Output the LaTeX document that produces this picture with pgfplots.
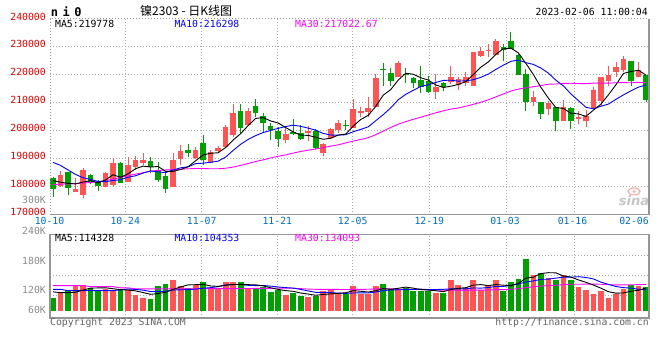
\documentclass[border=0pt]{standalone}
\usepackage{pgfplots}
\pgfplotsset{compat=1.18}
\usepackage{pgfplotstable}
\usepackage{fontspec}
\setmainfont{DejaVu Sans Mono}
\newfontfamily\cjk{Noto Sans CJK SC}
\newfontfamily\wm{DejaVu Sans}
\newcommand\sm{\fontsize{9.8bp}{10bp}\selectfont}
\definecolor{cred}{RGB}{255,84,84}
\definecolor{cgreen}{RGB}{0,160,0}
\definecolor{maten}{RGB}{0,0,255}
\definecolor{mathirty}{RGB}{255,0,255}
\definecolor{gridc}{RGB}{170,170,170}
\definecolor{framec}{RGB}{150,150,150}
\definecolor{ylab}{RGB}{230,0,0}
\definecolor{xlab}{RGB}{0,110,200}
\definecolor{glab}{RGB}{140,140,140}
\definecolor{copyc}{RGB}{100,100,100}

% red candles: i, open (lo), close (hi), low, high
\pgfplotstableread{
i lo hi L H
1 180370 184180 180000 185730
3 178110 179180 178000 183000
4 177040 185970 175850 186560
7 180010 184770 180010 185370
8 180610 188580 180010 190130
10 181800 187750 181800 190730
11 187160 189540 185970 190970
12 188580 189540 187750 191920
16 180010 189540 180010 191920
17 189890 192750 187750 194890
19 190250 193000 189890 194300
21 188580 192510 188580 193110
22 192870 193700 191920 194540
23 194060 201250 194060 202080
24 198460 206440 197870 209420
26 202040 207040 202040 207990
31 196680 198820 195490 200850
34 199300 200010 196440 201680
36 192160 195250 191080 195490
37 197270 200610 196920 200850
38 200250 202630 199300 203820
40 200800 207900 200800 211400
41 206310 207140 204760 208330
42 206550 207980 204760 211900
43 208570 218810 208570 220240
46 219050 224170 219050 225000
51 213690 215480 211310 220240
53 217260 219290 216670 222980
54 216430 218450 214520 219050
55 216900 219050 216070 220830
56 216070 227980 216070 228210
57 226790 228570 226190 230000
58 228570 228900 226190 230950
59 227140 232140 227140 232740
64 210120 212140 208930 214290
66 207740 209760 205710 210710
68 203570 208570 203570 210950
70 204170 205000 202380 207140
71 203330 205360 201430 207380
72 207740 214520 207740 215710
73 210710 219290 208930 219290
74 217620 220000 216070 223210
75 220830 222860 219050 224400
76 221670 225600 220830 226790
78 219050 221670 219050 224400
}\redK

% green candles: i, close (lo), open (hi), low, high
\pgfplotstableread{
i lo hi L H
0 179180 183000 176440 183580
2 179660 185130 177040 185370
5 181560 184180 180970 184420
6 180370 181800 178580 182390
9 181440 188580 181200 188940
13 186920 189180 184770 190730
14 182390 185970 181800 188940
15 179060 183820 177870 184770
18 191920 193110 190730 195250
20 189500 195600 187750 198460
25 200850 207040 199300 209420
27 206440 208820 204770 211200
28 202870 205250 199300 206440
29 200250 201680 196680 202630
30 197160 200010 194300 201200
32 198820 199660 198460 204060
33 196920 199060 196680 202040
35 193700 200010 193350 200490
39 201800 202150 200250 203820
44 221670 222020 216070 224170
45 217860 220480 216000 222500
47 220000 220350 216900 222260
48 217020 218810 215240 219290
49 215480 218210 213330 223210
50 213690 217860 213330 219640
52 215480 217020 214290 217260
60 228810 230000 224760 231000
61 229170 232140 229170 235120
62 220000 227140 220000 227500
63 210120 220240 207140 222020
65 205950 210120 204170 210120
67 203330 208570 200000 208570
69 203330 208100 200600 208570
77 217860 225000 216070 225000
79 211070 220000 210120 220000
}\greenK

\pgfplotstableread{
i m5 m10 m30
0 182200 188700 180800
1 181600 187600 180900
2 181200 186000 181000
3 181000 184400 181100
4 181660 183200 181300
5 182140 182600 181500
6 181380 181900 181800
7 182400 181800 182200
8 184280 182200 182700
9 183360 182510 183300
10 184600 183370 183900
11 186420 183900 184500
12 187360 184880 185000
13 187020 185650 185500
14 187220 185290 185800
15 185480 185040 186000
16 185480 185950 186100
17 186140 186750 186200
18 187140 187080 186400
19 189260 188240 186500
20 191340 188410 186500
21 191940 188710 186400
22 192120 189130 186400
23 194000 190570 186600
24 196680 192970 187000
25 198940 195140 187600
26 201840 196890 188300
27 204380 198250 189000
28 204700 199350 189600
29 203480 200080 190280
30 202760 200850 190880
31 201120 201480 191360
32 199600 201990 192000
33 198400 201550 192590
34 198340 200910 193060
35 197640 200200 193460
36 196940 199030 193960
37 197300 198450 194480
38 198440 198420 194950
39 198800 198570 195630
40 201640 199640 196300
41 204000 200470 196890
42 205480 201390 197500
43 208720 203580 198570
44 212700 205750 199880
45 214700 208170 201170
46 218120 211060 202330
47 220520 213000 203230
48 220160 214440 204070
49 218920 215810 204820
50 218080 216390 205630
51 216340 217230 206390
52 215440 217980 207120
53 215900 218030 207720
54 216500 217710 208120
55 217560 217820 208730
56 220060 218200 209430
57 222680 219060 210170
58 224580 220240 211030
59 227300 221900 212090
60 229260 223410 213150
61 229500 224780 214160
62 227780 225230 214870
63 224040 224310 215310
64 220040 223670 215710
65 215480 222370 216120
66 211600 220550 216600
67 208260 218020 216690
68 207960 216000 216890
69 206200 213120 216940
70 206000 210740 216850
71 205120 208360 216790
72 207360 207810 217010
73 209500 208730 217020
74 212840 209520 216970
75 216420 211210 217130
76 220460 212790 217180
77 221140 214250 217110
78 221620 215560 217270
79 219840 216340 217120
}\maMain

\pgfplotstableread{
i v
1 105400
3 120450
4 120450
7 110950
8 109370
10 109370
11 97500
12 91160
16 133120
17 118870
19 121250
21 113330
22 113330
23 128370
24 128370
26 111740
31 97500
34 92750
36 107000
37 109370
38 103040
40 119660
41 99870
42 99870
43 119660
46 111740
51 103040
53 133120
54 121250
55 114120
56 133120
57 109370
58 121250
59 133120
64 145000
66 138660
68 145000
70 117290
71 109370
72 100660
73 107790
74 91160
75 99870
76 112540
78 118870
}\redV

\pgfplotstableread{
i v
0 91160
2 109370
5 113330
6 107790
9 109370
13 88000
14 118870
15 123620
18 113330
20 128370
25 128370
27 111740
28 115700
29 105410
30 109370
32 103040
33 95910
35 95120
39 99870
44 124410
45 111740
47 114120
48 107000
49 107000
50 107000
52 103040
60 107000
61 128370
62 135500
63 183000
65 150540
67 133120
69 133120
77 121250
79 117290
}\greenV

\pgfplotstableread{
i v5 v10 v30
0 105000 110950 119660
1 103000 110950 119660
2 103000 107800 119660
3 104000 107800 119660
4 109400 107800 119660
5 113800 107800 117300
6 114300 107800 117300
7 114600 107800 117300
8 112400 107800 117300
9 110200 109800 114500
10 109400 111600 114500
11 107300 110800 112000
12 103400 109000 112000
13 99100 105800 112000
14 101000 105600 112000
15 103800 106600 112000
16 111000 109200 112000
17 116500 109900 112000
18 121600 110300 112000
19 122000 111500 112000
20 123000 113400 112500
21 119000 115000 112500
22 117900 117200 112500
23 120900 121300 112500
24 122400 122200 112500
25 122400 122700 112800
26 122000 120500 113000
27 121700 119800 113100
28 119200 120100 113200
29 114600 118500 113300
30 110800 116600 113900
31 107900 115000 113600
32 106200 114000 113400
33 102200 110700 112600
34 99700 107200 111600
35 96900 103800 111000
36 98800 103400 111000
37 100000 103100 111000
38 101500 101900 110700
39 102900 101300 110400
40 107800 102300 110800
41 106400 102600 110900
42 104500 102300 111100
43 107800 104600 112200
44 112700 107800 112400
45 111100 109500 112000
46 113500 109900 111300
47 116300 110400 111100
48 113800 110800 110900
49 110300 111500 110400
50 109400 110200 109700
51 107600 110600 109400
52 105400 110900 109000
53 110600 112200 109200
54 113500 111900 108900
55 114900 112100 108500
56 120900 114300 109200
57 122200 113800 109100
58 119800 115200 109300
59 122200 117800 110200
60 120800 117800 110100
61 119800 120400 111200
62 125100 123600 112300
63 137400 128600 115200
64 139800 131000 116900
65 148500 134600 118700
66 150500 135200 119800
67 150100 137600 120600
68 142500 139900 122000
69 140100 139900 123100
70 133400 141000 123000
71 127600 139100 123300
72 121100 135600 123400
73 113700 128100 123000
74 105300 122700 121900
75 101800 117600 121500
76 102400 115000 121500
77 106500 113800 121700
78 108800 111200 122100
79 114000 109600 122500
}\maVol

\pgfplotsset{
  sinaaxis/.style={
    scale only axis, width=599bp, xmin=-0.4, xmax=79.4,
    anchor=south west,
    axis line style={draw=none},
    xtick={9.63,19.81,29.88,39.93,50.13,60.35,69.5},
    xticklabels={}, yticklabels={},
    scaled x ticks=false, scaled y ticks=false,
    xmajorgrids, ymajorgrids,
    major grid style={draw=gridc, line width=0.8bp, dash pattern=on 1bp off 2bp},
    major tick length=0pt,
    clip mode=individual,
  },
  body/.style 2 args={draw=none, mark=none, forget plot,
    error bars/.cd, y dir=plus, y explicit, error mark=none,
    error bar style={draw=#1, line width=#2}},
}

\begin{document}
\begin{tikzpicture}
\path[use as bounding box, fill=white] (0,0) rectangle (660bp,360bp);

% ---------- price panel ----------
\begin{axis}[sinaaxis, at={(50bp,145.3bp)}, height=196bp,
  ymin=170000, ymax=240000,
  ytick={180000,190000,200000,210000,220000,230000}]
  \addplot[body={cred}{0.9bp}] table[x=i, y=L, y error expr=\thisrow{H}-\thisrow{L}] {\redK};
  \addplot[body={cred}{5.6bp}] table[x=i, y=lo, y error expr=\thisrow{hi}-\thisrow{lo}] {\redK};
  \addplot[body={cgreen}{0.9bp}] table[x=i, y=L, y error expr=\thisrow{H}-\thisrow{L}] {\greenK};
  \addplot[body={cgreen}{5.6bp}] table[x=i, y=lo, y error expr=\thisrow{hi}-\thisrow{lo}] {\greenK};
  \addplot[mathirty, line width=0.9bp] table[x=i, y=m30] {\maMain};
  \addplot[maten, line width=0.9bp] table[x=i, y=m10] {\maMain};
  \addplot[black, line width=0.9bp] table[x=i, y=m5] {\maMain};
  \draw[framec, line width=0.9bp, dash pattern=on 1bp off 2bp] (rel axis cs:0,0) -- (rel axis cs:0,1) -- (rel axis cs:1,1);
  \draw[framec, line width=1.6bp] (rel axis cs:0,0) -- (rel axis cs:1,0) -- (rel axis cs:1,1);
\end{axis}

% ---------- volume panel ----------
\begin{axis}[sinaaxis, at={(50bp,41.7bp)}, height=84bp,
  ymin=42160, ymax=241660,
  ytick={97500,145000,192500}]
  \addplot[body={cred}{5.8bp}] table[x=i, y expr=60000, y error expr=\thisrow{v}-60000] {\redV};
  \addplot[body={cgreen}{5.8bp}] table[x=i, y expr=60000, y error expr=\thisrow{v}-60000] {\greenV};
  \addplot[mathirty, line width=0.9bp] table[x=i, y=v30] {\maVol};
  \addplot[maten, line width=0.9bp] table[x=i, y=v10] {\maVol};
  \addplot[black, line width=0.9bp] table[x=i, y=v5] {\maVol};
  \draw[framec, line width=1.6bp] (rel axis cs:0,0) rectangle (rel axis cs:1,1);
\end{axis}

% ---------- texts ----------
\node[anchor=west, inner sep=0, font=\bfseries\fontsize{12bp}{12bp}\selectfont] at (50.7bp,348bp) {n\hspace{4.5bp}i\hspace{4.5bp}0};
\node[anchor=west, inner sep=0, font=\cjk\fontsize{12bp}{12bp}\selectfont] at (140bp,349.5bp) {镍2303 - 日K线图};
\node[anchor=east, inner sep=0, font=\sm] at (648bp,348bp) {2023-02-06 11:00:04};

\node[anchor=west, inner sep=0, font=\sm] at (55bp,336.5bp) {MA5:219778};
\node[anchor=west, inner sep=0, font=\sm, text=maten] at (174.3bp,336.5bp) {MA10:216298};
\node[anchor=west, inner sep=0, font=\sm, text=mathirty] at (295bp,336.5bp) {MA30:217022.67};

\node[anchor=west, inner sep=0, font=\sm] at (55bp,121.7bp) {MA5:114328};
\node[anchor=west, inner sep=0, font=\sm, text=maten] at (174.3bp,121.7bp) {MA10:104353};
\node[anchor=west, inner sep=0, font=\sm, text=mathirty] at (295bp,121.7bp) {MA30:134093};

\foreach \lab/\yy in {240000/343, 230000/315.7, 220000/287.7, 210000/259.7, 200000/231.7, 190000/203.7, 180000/175.7, 170000/148.3}
  \node[anchor=east, inner sep=0, font=\sm, text=ylab] at (46bp,\yy bp) {\lab};
\node[anchor=east, inner sep=0, font=\sm, text=glab] at (46bp,160bp) {300K};
\foreach \lab/\yy in {240K/129.3, 180K/99.3, 120K/70, 60K/50}
  \node[anchor=east, inner sep=0, font=\sm, text=glab] at (46bp,\yy bp) {\lab};

\foreach \lab/\xx in {10-10/49.5, 10-24/125.3, 11-07/201.7, 11-21/277.3, 12-05/352.7, 12-19/429.3, 01-03/505, 01-16/572.5, 02-06/634}
  \node[inner sep=0, font=\sm, text=xlab] at (\xx bp,139bp) {\lab};

\node[anchor=west, inner sep=0, font=\sm, text=copyc] at (50bp,37bp) {Copyright 2023 SINA.COM};
\node[anchor=east, inner sep=0, font=\sm, text=copyc] at (649bp,37bp) {http://finance.sina.com.cn};

% watermark
\draw[red!35, line width=1.1bp] (634bp,168.5bp) ellipse (6bp and 3.5bp);
\fill[red!35] (634bp,168.5bp) circle (1.5bp);
\node[inner sep=0, font=\wm\bfseries\itshape\fontsize{13bp}{13bp}\selectfont, text=gray!45] at (634bp,159bp) {sina};
\end{tikzpicture}
\end{document}
